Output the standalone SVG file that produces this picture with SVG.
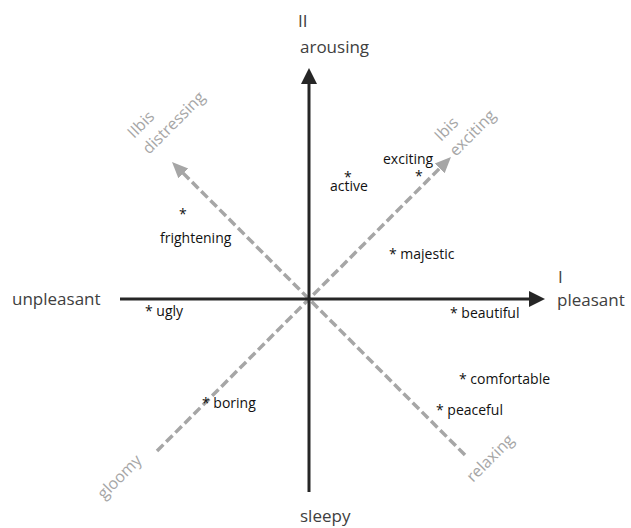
<svg xmlns="http://www.w3.org/2000/svg" width="631" height="528" viewBox="0 0 631 528">
<style>
.ax{font-family:"Open Sans","Liberation Sans",sans-serif;font-size:17px;fill:#404040}
.dg{font-family:"Open Sans","Liberation Sans",sans-serif;font-size:16px;fill:#a6a6a6}
.it{font-family:"Open Sans","Liberation Sans",sans-serif;font-size:14px;fill:#111}
.axis{stroke:#262626;stroke-width:3;fill:none}
.dash{stroke:#a6a6a6;stroke-width:3.5;stroke-dasharray:9 4;fill:none}
</style>
<defs>
<marker id="ah" markerUnits="userSpaceOnUse" markerWidth="16" markerHeight="16" refX="4" refY="8" orient="auto" viewBox="0 0 16 16">
<path d="M0,0 L16,8 L0,16 z" fill="#262626"/>
</marker>
<marker id="ahg" markerUnits="userSpaceOnUse" markerWidth="16" markerHeight="16" refX="4" refY="8" orient="auto" viewBox="0 0 16 16">
<path d="M0,1 L16,8 L0,15 z" fill="#a6a6a6"/>
</marker>
</defs>
<g id="connectors">
<line class="dash" x1="157" y1="451" x2="442.5" y2="165.5" marker-end="url(#ahg)"/>
<line class="dash" x1="465" y1="455" x2="180.5" y2="170.5" marker-end="url(#ahg)"/>
<line class="axis" x1="309" y1="492" x2="309" y2="80" marker-end="url(#ah)"/>
<line class="axis" x1="120" y1="299" x2="533" y2="299" marker-end="url(#ah)"/>
</g>
<g id="axis-labels">
<text class="ax" x="298" y="27">II</text>
<text class="ax" x="300" y="53">arousing</text>
<text class="ax" x="12" y="305">unpleasant</text>
<text class="ax" x="558" y="283">I</text>
<text class="ax" x="557" y="306">pleasant</text>
<text class="ax" x="300" y="522">sleepy</text>
</g>
<g id="diagonal-labels">
<text class="dg" transform="translate(441,142) rotate(-45)">Ibis</text>
<text class="dg" transform="translate(456,157) rotate(-45)">exciting</text>
<text class="dg" transform="translate(134,139) rotate(-45)">IIbis</text>
<text class="dg" transform="translate(149,155) rotate(-45)">distressing</text>
<text class="dg" transform="translate(104,500) rotate(-45)">gloomy</text>
<text class="dg" transform="translate(473,483) rotate(-45)">relaxing</text>
</g>
<g id="items">
<text class="it" x="383" y="164">exciting</text>
<text class="it" x="415" y="181">*</text>
<text class="it" x="344" y="182">*</text>
<text class="it" x="330" y="191">active</text>
<text class="it" x="179" y="219">*</text>
<text class="it" x="160" y="243">frightening</text>
<text class="it" x="389" y="259">* majestic</text>
<text class="it" x="145" y="316">* ugly</text>
<text class="it" x="450" y="318">* beautiful</text>
<text class="it" x="202" y="408">* boring</text>
<text class="it" x="459" y="384">* comfortable</text>
<text class="it" x="436" y="415">* peaceful</text>
</g>
</svg>
